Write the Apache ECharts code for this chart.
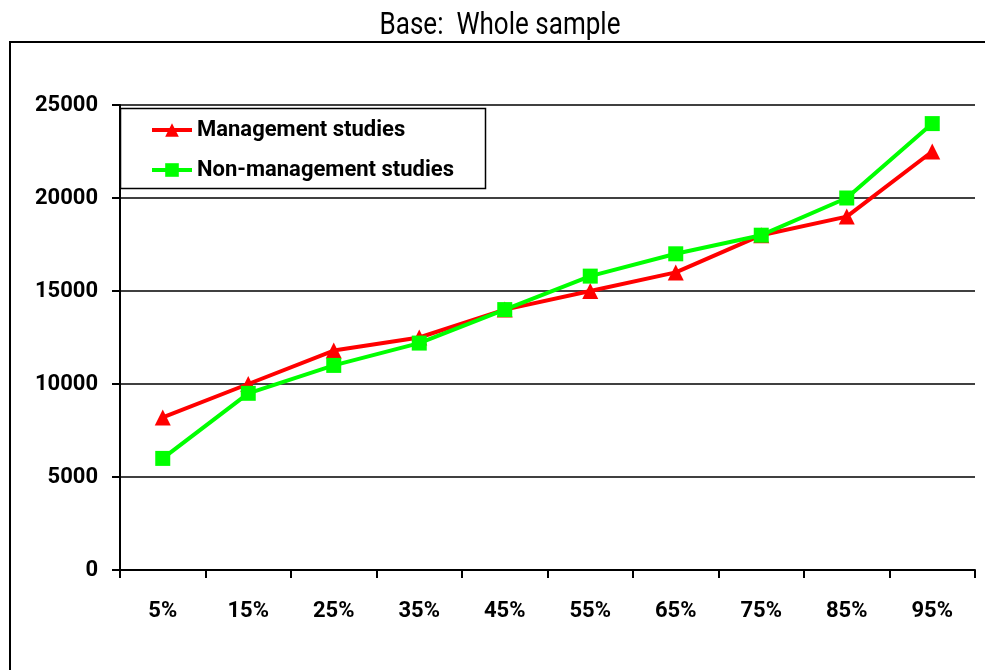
<!DOCTYPE html>
<html>
<head>
<meta charset="utf-8">
<script src="https://cdn.jsdelivr.net/npm/echarts@6/dist/echarts.min.js"></script>
<style>
html,body{margin:0;padding:0;background:#fff;}
#chart{width:985px;height:670px;}
</style>
</head>
<body>
<div id="chart"></div>
<script>
const categories = ['5%', '15%', '25%', '35%', '45%', '55%', '65%', '75%', '85%', '95%'];
const management = [8200, 10000, 11800, 12500, 14000, 15000, 16000, 18000, 19000, 22500];
const nonManagement = [6000, 9500, 11000, 12200, 14000, 15800, 17000, 18000, 20000, 24000];
const seriesNames = ['Management studies', 'Non-management studies'];
const titleText = 'Base:  Whole sample';

const FONT = "Roboto, 'Liberation Sans', sans-serif";

const chart = echarts.init(document.getElementById('chart'), null, {renderer: 'canvas'});
chart.setOption({
  animation: false,
  backgroundColor: '#fff',
  graphic: [
    {type: 'rect', shape: {x: 10, y: 42, width: 1100, height: 800}, style: {fill: 'none', stroke: '#000', lineWidth: 2}, z: 0},
    {type: 'text', x: 500, y: 26, scaleX: 0.84, style: {text: titleText, font: "31px " + FONT, fill: '#000', align: 'center', verticalAlign: 'middle'}, z: 10},
    {type: 'rect', shape: {x: 120.5, y: 108.5, width: 365, height: 80}, style: {fill: '#fff', stroke: '#000', lineWidth: 1.5}, z: 50}
  ],
  grid: {left: 120, right: 10, top: 105, bottom: 100, containLabel: false},
  legend: {
    orient: 'vertical', left: 150, top: 118, z: 60,
    itemWidth: 40, itemHeight: 17, itemGap: 16,
    padding: 0,
    lineStyle: {width: 4},
    textStyle: {fontFamily: FONT, fontWeight: 'bold', fontSize: 22, color: '#000', lineHeight: 24},
    data: seriesNames
  },
  xAxis: {
    type: 'category', data: categories, boundaryGap: true,
    axisLine: {lineStyle: {color: '#000', width: 2}},
    axisTick: {show: true, length: 8, lineStyle: {color: '#000', width: 2}},
    axisLabel: {fontFamily: FONT, fontWeight: 'bold', fontSize: 22, color: '#000', margin: 30}
  },
  yAxis: {
    type: 'value', min: 0, max: 25000, interval: 5000,
    axisLine: {show: true, lineStyle: {color: '#000', width: 2}},
    axisTick: {show: true, inside: false, length: 8, lineStyle: {color: '#000', width: 2}},
    axisLabel: {fontFamily: FONT, fontWeight: 'bold', fontSize: 22, color: '#000', margin: 22,
                formatter: function (v) { return String(v); }},
    splitLine: {show: true, lineStyle: {color: '#000', width: 1.5}}
  },
  series: [
    {name: seriesNames[0], type: 'line', data: management, color: '#ff0000',
     symbol: 'triangle', symbolSize: 16, lineStyle: {width: 4, color: '#ff0000'},
     itemStyle: {color: '#ff0000'}, z: 3},
    {name: seriesNames[1], type: 'line', data: nonManagement, color: '#00ff00',
     symbol: 'rect', symbolSize: 15, lineStyle: {width: 4, color: '#00ff00'},
     itemStyle: {color: '#00ff00'}, z: 4}
  ]
});
</script>
</body>
</html>
